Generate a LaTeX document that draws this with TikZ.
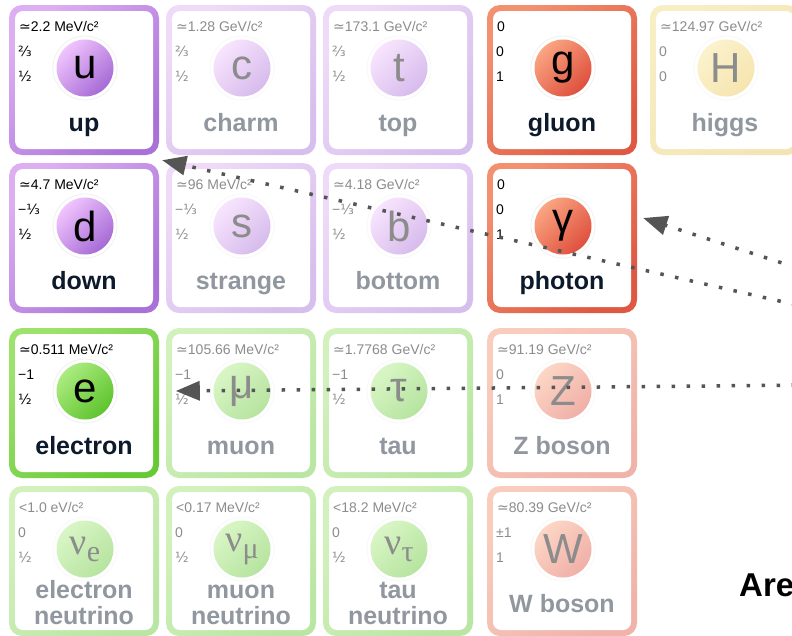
\documentclass[tikz,border=0pt]{standalone}
\usepackage{fontspec}
\setmainfont{Liberation Sans}
\newfontfamily\djv{DejaVu Sans}
\newfontfamily\nufont{Liberation Serif}
\usetikzlibrary{arrows.meta}

\definecolor{quarkedgeA}{HTML}{DDAEF2}
\definecolor{quarkedgeB}{HTML}{A872D8}
\definecolor{quarkballA}{HTML}{F0C4FD}
\definecolor{quarkballB}{HTML}{A66AD6}
\definecolor{gaugeedgeA}{HTML}{F39070}
\definecolor{gaugeedgeB}{HTML}{DE5843}
\definecolor{gaugeballA}{HTML}{FAA581}
\definecolor{gaugeballB}{HTML}{DF4F3E}
\definecolor{leptonedgeA}{HTML}{9EE26E}
\definecolor{leptonedgeB}{HTML}{66C935}
\definecolor{leptonballA}{HTML}{ABEC80}
\definecolor{leptonballB}{HTML}{5FC32D}
\definecolor{scalaredgeA}{HTML}{F0DA7C}
\definecolor{scalaredgeB}{HTML}{E6C658}
\definecolor{scalarballA}{HTML}{F8E290}
\definecolor{scalarballB}{HTML}{EBC650}
\definecolor{namecol}{HTML}{0D1A2B}
\definecolor{dotcol}{HTML}{555555}

\newcommand{\apx}{{\djv ≃}}
\newcommand{\frc}[1]{{\djv #1}}
\newcommand{\nusym}[1]{{\nufont\fontsize{38}{38}\selectfont ν\raisebox{-7pt}{\fontsize{30}{30}\selectfont #1}}}
\newcommand{\twoline}[2]{\raisebox{-12pt}{\begin{tabular}[b]{@{}c@{}}#1\\#2\end{tabular}}}

\tikzset{
  cardframe/.style={rectangle, rounded corners=13pt, minimum width=150pt, minimum height=150pt,
    inner sep=0pt, top color=#1edgeA, bottom color=#1edgeB, shading angle=45},
  cardface/.style={rectangle, rounded corners=8pt, minimum width=138pt, minimum height=138pt,
    inner sep=0pt, fill=white},
  qnum/.style={anchor=base west, inner sep=0pt, font=\fontsize{14}{14}\selectfont},
  halo/.style={circle, minimum size=64pt, inner sep=0pt, fill=white, draw=black!6, line width=0.8pt},
  ball/.style={circle, minimum size=57pt, inner sep=0pt, top color=#1ballA, bottom color=#1ballB,
    shading angle=45, font=\fontsize{42}{42}\selectfont},
  pname/.style={anchor=base, inner sep=0pt, text=namecol, font=\fontsize{25}{25.5}\selectfont\bfseries},
  dotarrow/.style={draw=dotcol, line width=3.5pt, dash pattern=on 3.5pt off 11.5pt,
    -{Triangle[length=24pt,width=19pt]}}
}

% name, centre, family, mass, charge, spin, symbol, label
\newcommand{\particle}[8]{%
  \node [cardframe=#3] (#1) at (#2) {};
  \node [cardface] (#1-face) at (#1) {};
  \node [qnum] (#1-mass) at ([shift={(-65,-49)}]#1.center) {#4};
  \node [qnum] (#1-charge) at ([shift={(-66,-24)}]#1.center) {#5};
  \node [qnum] (#1-spin) at ([shift={(-66,1)}]#1.center) {#6};
  \node [halo] (#1-halo) at ([shift={(1,-12)}]#1.center) {};
  \node [ball=#3] (#1-sym) at (#1-halo) {#7};
  \node [pname] (#1-name) at ([shift={(0,51)}]#1.center) {#8};
}

\begin{document}
\begin{tikzpicture}[x=1pt, y=-1pt]
\useasboundingbox [fill=white] (0,0) rectangle (792,635);

\particle{up}{84,80}{quark}{\apx2.2 MeV/c²}{\frc{⅔}}{\frc{½}}{u}{up}
\particle{down}{84,238}{quark}{\apx4.7 MeV/c²}{−\frc{⅓}}{\frc{½}}{d}{down}
\particle{gluon}{562,80}{gauge}{0}{0}{1}{g}{gluon}
\particle{photon}{562,238}{gauge}{0}{0}{1}{γ}{photon}
\particle{electron}{84,403}{lepton}{\apx0.511 MeV/c²}{−1}{\frc{½}}{e}{electron}

\begin{scope}[transparency group, opacity=0.45]
\particle{charm}{241,80}{quark}{\apx1.28 GeV/c²}{\frc{⅔}}{\frc{½}}{c}{charm}
\particle{top}{398,80}{quark}{\apx173.1 GeV/c²}{\frc{⅔}}{\frc{½}}{t}{top}
\particle{higgs}{725,80}{scalar}{\apx124.97 GeV/c²}{0}{0}{H}{higgs}
\particle{strange}{241,238}{quark}{\apx96 MeV/c²}{−\frc{⅓}}{\frc{½}}{s}{strange}
\particle{bottom}{398,238}{quark}{\apx4.18 GeV/c²}{−\frc{⅓}}{\frc{½}}{b}{bottom}
\particle{muon}{241,403}{lepton}{\apx105.66 MeV/c²}{−1}{\frc{½}}{μ}{muon}
\particle{tau}{398,403}{lepton}{\apx1.7768 GeV/c²}{−1}{\frc{½}}{τ}{tau}
\particle{zboson}{562,403}{gauge}{\apx91.19 GeV/c²}{0}{1}{Z}{Z boson}
\particle{nue}{84,561}{lepton}{<1.0 eV/c²}{0}{\frc{½}}{\nusym{e}}{\twoline{electron}{neutrino}}
\particle{numu}{241,561}{lepton}{<0.17 MeV/c²}{0}{\frc{½}}{\nusym{μ}}{\twoline{muon}{neutrino}}
\particle{nutau}{398,561}{lepton}{<18.2 MeV/c²}{0}{\frc{½}}{\nusym{τ}}{\twoline{tau}{neutrino}}
\particle{wboson}{562,561}{gauge}{\apx80.39 GeV/c²}{±1}{1}{W}{W boson}
\end{scope}

\node [anchor=base west, inner sep=0pt, font=\fontsize{33}{33}\selectfont\bfseries] (are) at (739,596) {Are};

\coordinate (from-up) at (810,308);
\coordinate (from-photon) at (810,272);
\coordinate (from-electron) at (810,385);
\draw [dotarrow] (from-up) -- ([shift={(3,5)}]up.south east);
\draw [dotarrow] (from-photon) -- ([shift={(6,-20)}]photon.east);
\draw [dotarrow] (from-electron) -- ([shift={(10,-12)}]muon.west);
\end{tikzpicture}
\end{document}
